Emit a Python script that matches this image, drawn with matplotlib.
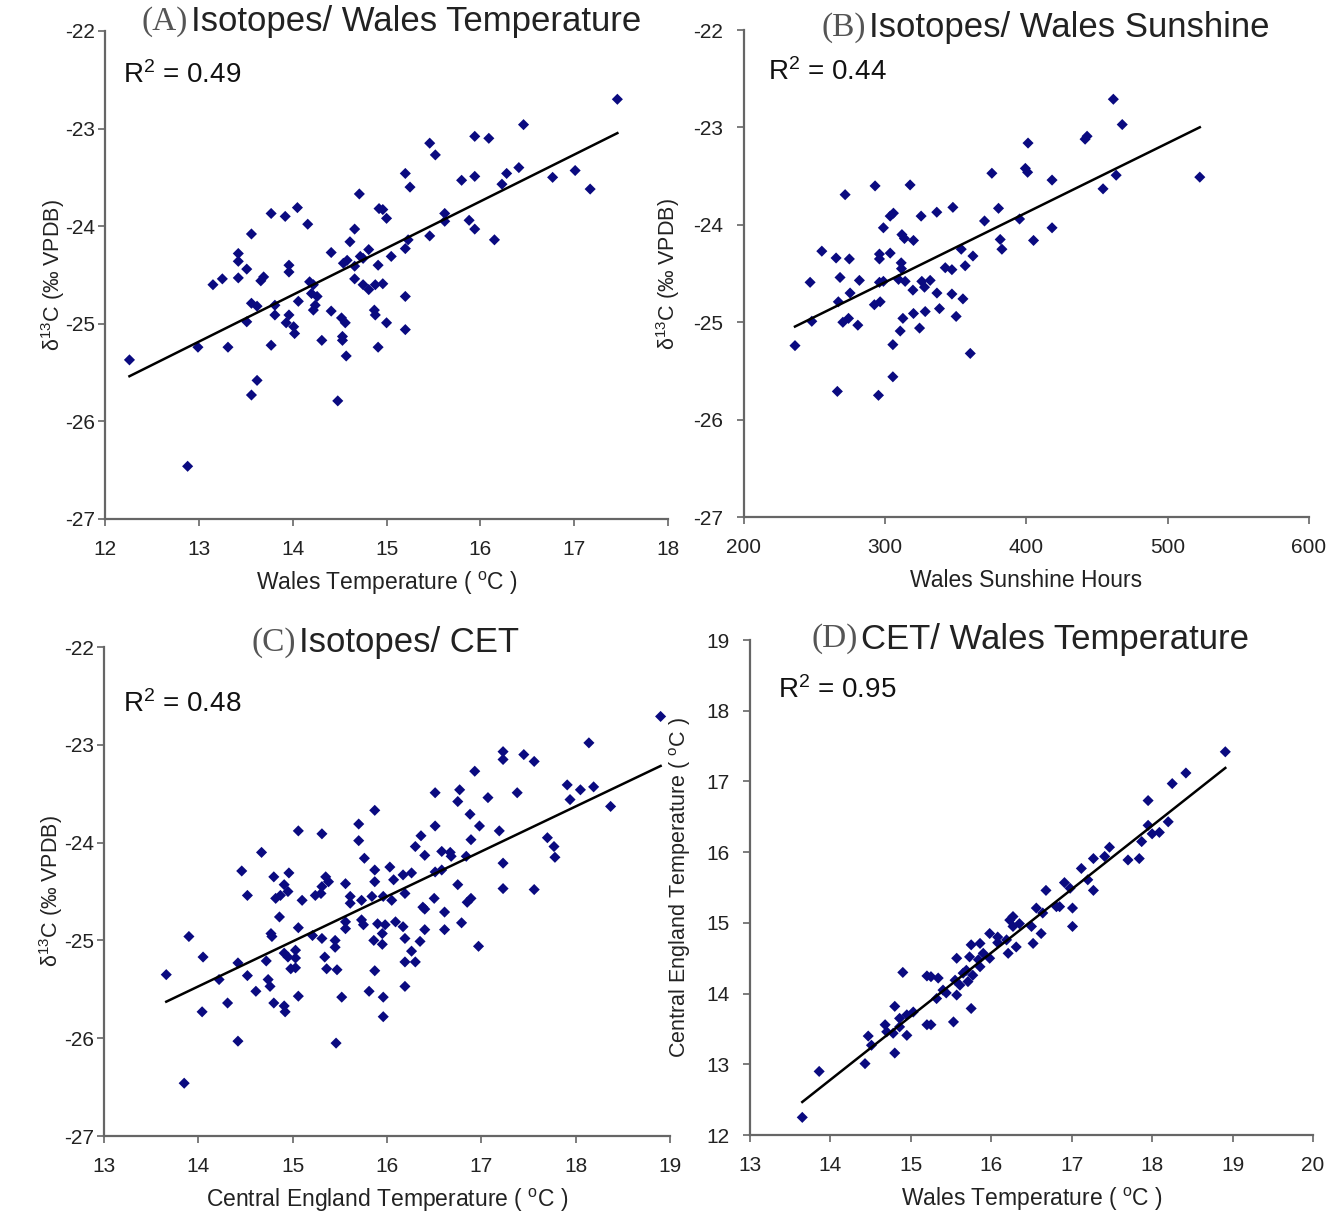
import matplotlib
matplotlib.use("Agg")
import matplotlib.pyplot as plt
import numpy as np

plt.rcParams["font.family"] = ["Liberation Sans", "DejaVu Sans"]
plt.rcParams["mathtext.fontset"] = "custom"
plt.rcParams["mathtext.rm"] = "Liberation Sans"
plt.rcParams["mathtext.it"] = "Liberation Sans:italic"
plt.rcParams["axes.unicode_minus"] = False

# (A) isotopes vs Wales temperature
a_temp = [15.94, 15.46, 15.52, 15.20, 15.25, 15.80, 15.94, 14.71, 14.92, 14.96, 15.00, 13.77, 13.92, 14.05,
          14.16, 15.62, 15.62, 15.88, 15.94, 14.66, 14.61, 13.56, 15.23, 15.46, 15.20, 14.41, 14.81, 14.72,
          15.05, 13.42, 13.42, 13.51, 13.42, 13.25, 13.15, 13.69, 13.66, 13.96, 13.96, 14.54, 14.58, 14.66,
          14.75, 14.91, 14.66, 14.18, 14.22, 14.20, 14.26, 14.24, 14.22, 14.75, 14.81, 14.88, 14.96, 13.56,
          13.62, 13.81, 14.06, 13.81, 13.96, 13.93, 14.01, 14.02, 14.41, 14.52, 14.56, 14.87, 14.88, 15.20,
          15.00, 15.20, 13.51, 14.53, 14.53, 14.31, 13.77, 13.31, 12.99, 14.57, 14.91, 13.62, 13.56, 14.48,
          17.46, 16.46, 16.09, 16.77, 17.01, 17.17, 16.41, 16.28, 16.23, 16.15, 12.26, 12.88]
a_d13c = [-23.08, -23.15, -23.27, -23.46, -23.60, -23.53, -23.49, -23.67, -23.82, -23.83, -23.92, -23.87, -23.90, -23.81,
          -23.98, -23.87, -23.95, -23.94, -24.03, -24.03, -24.16, -24.08, -24.14, -24.10, -24.23, -24.27, -24.24, -24.31,
          -24.31, -24.28, -24.36, -24.44, -24.53, -24.54, -24.60, -24.52, -24.56, -24.40, -24.47, -24.38, -24.35, -24.41,
          -24.33, -24.40, -24.54, -24.57, -24.60, -24.69, -24.72, -24.81, -24.86, -24.60, -24.65, -24.60, -24.59, -24.79,
          -24.82, -24.81, -24.77, -24.91, -24.91, -24.99, -25.03, -25.10, -24.87, -24.94, -24.99, -24.86, -24.91, -24.72,
          -24.99, -25.06, -24.98, -25.13, -25.17, -25.17, -25.22, -25.24, -25.24, -25.33, -25.24, -25.58, -25.73, -25.79,
          -22.70, -22.96, -23.10, -23.50, -23.43, -23.62, -23.40, -23.46, -23.57, -24.14, -25.37, -26.46]

# (B) isotopes vs Wales sunshine hours
b_sun = [442.9, 441.5, 401.1, 399.2, 400.8, 375.5, 418.1, 454.2, 271.6, 292.8, 317.6, 303.5, 305.8, 298.7,
         325.4, 336.5, 347.9, 380.2, 370.3, 395.1, 418.1, 405.0, 381.4, 382.6, 311.8, 313.6, 320.0, 353.8,
         362.1, 356.6, 255.1, 265.2, 274.6, 295.9, 295.9, 303.5, 311.3, 311.5, 342.5, 347.2, 246.8, 268.0,
         281.7, 275.1, 266.8, 295.9, 298.7, 309.4, 314.1, 319.6, 325.9, 327.8, 331.8, 336.6, 347.2, 355.0,
         292.3, 296.4, 248.0, 270.0, 274.0, 280.6, 312.5, 320.0, 328.3, 338.4, 350.2, 310.6, 324.3, 236.1,
         305.4, 360.2, 305.4, 266.1, 295.2, 461.5, 467.8, 522.7, 463.5]
b_d13c = [-23.09, -23.12, -23.16, -23.42, -23.46, -23.47, -23.54, -23.63, -23.69, -23.60, -23.59, -23.91, -23.88, -24.03,
          -23.91, -23.87, -23.82, -23.83, -23.96, -23.94, -24.03, -24.16, -24.15, -24.25, -24.10, -24.14, -24.16, -24.25,
          -24.32, -24.42, -24.27, -24.34, -24.35, -24.30, -24.35, -24.29, -24.39, -24.45, -24.44, -24.46, -24.59, -24.54,
          -24.57, -24.70, -24.79, -24.59, -24.58, -24.56, -24.58, -24.67, -24.58, -24.64, -24.57, -24.70, -24.71, -24.76,
          -24.82, -24.79, -24.99, -25.00, -24.96, -25.03, -24.96, -24.91, -24.89, -24.86, -24.94, -25.09, -25.06, -25.24,
          -25.23, -25.32, -25.56, -25.71, -25.75, -22.71, -22.97, -23.51, -23.49]

# (C) isotopes vs Central England Temperature
c_cet = [17.23, 17.23, 17.45, 17.56, 16.93, 16.51, 16.77, 16.75, 17.07, 17.38, 15.87, 15.70, 15.70, 15.06,
         15.31, 14.67, 15.76, 16.51, 16.88, 16.98, 17.19, 16.89, 16.36, 16.30, 16.40, 16.67, 16.68, 16.84,
         17.23, 17.70, 17.77, 17.78, 17.23, 17.56, 14.46, 14.52, 13.90, 14.80, 14.96, 14.91, 14.82, 14.87,
         14.95, 15.10, 15.35, 15.38, 15.31, 15.24, 15.30, 15.56, 15.61, 15.61, 15.73, 15.84, 15.87, 15.87,
         16.03, 16.07, 16.17, 16.26, 16.19, 16.05, 15.96, 16.51, 16.58, 16.75, 16.50, 16.61, 16.79, 16.85,
         16.89, 16.61, 16.38, 16.40, 16.40, 16.97, 16.35, 16.19, 16.26, 16.19, 16.30, 16.19, 16.09, 15.98,
         15.95, 15.90, 15.86, 15.95, 15.73, 15.75, 15.56, 15.56, 15.45, 15.45, 15.31, 15.21, 15.06, 14.86,
         14.77, 14.78, 15.03, 14.91, 14.95, 15.03, 15.03, 14.98, 14.72, 15.34, 15.47, 14.42, 14.22, 14.05,
         13.66, 14.52, 14.61, 14.74, 14.76, 14.80, 14.91, 14.92, 15.06, 14.31, 14.04, 14.42, 13.85, 15.46,
         15.52, 15.81, 15.96, 15.96, 15.87, 15.36, 16.17, 16.58, 18.90, 18.14, 18.37, 17.91, 17.94, 18.05,
         18.19]
c_d13c = [-23.07, -23.15, -23.10, -23.17, -23.27, -23.49, -23.46, -23.58, -23.54, -23.49, -23.67, -23.81, -23.98, -23.88,
          -23.91, -24.10, -24.16, -23.83, -23.71, -23.83, -23.88, -23.97, -23.93, -24.04, -24.13, -24.10, -24.14, -24.14,
          -24.21, -23.95, -24.04, -24.15, -24.47, -24.48, -24.29, -24.54, -24.96, -24.35, -24.31, -24.43, -24.57, -24.54,
          -24.50, -24.59, -24.35, -24.40, -24.45, -24.54, -24.52, -24.42, -24.55, -24.62, -24.59, -24.55, -24.28, -24.40,
          -24.25, -24.38, -24.33, -24.31, -24.52, -24.59, -24.55, -24.30, -24.28, -24.43, -24.57, -24.71, -24.82, -24.61,
          -24.57, -24.89, -24.66, -24.68, -24.89, -25.06, -25.01, -24.98, -25.11, -25.22, -25.22, -25.47, -24.81, -24.84,
          -24.93, -24.83, -25.00, -25.04, -24.79, -24.84, -24.81, -24.88, -25.00, -25.07, -24.98, -24.95, -24.87, -24.76,
          -24.93, -24.96, -25.10, -25.13, -25.17, -25.18, -25.28, -25.29, -25.21, -25.17, -25.30, -25.23, -25.40, -25.17,
          -25.35, -25.36, -25.52, -25.40, -25.47, -25.64, -25.67, -25.73, -25.57, -25.64, -25.73, -26.03, -26.46, -26.05,
          -25.58, -25.52, -25.58, -25.78, -25.31, -25.29, -24.86, -24.09, -22.71, -22.98, -23.63, -23.41, -23.56, -23.46,
          -23.43]

# (D) CET vs Wales temperature
d_wales = [18.91, 18.42, 18.25, 17.95, 17.95, 18.20, 18.09, 18.00, 17.87, 17.84, 17.70, 17.47, 17.41, 17.27,
           17.12, 17.20, 17.27, 16.91, 16.98, 17.01, 17.01, 16.68, 16.81, 16.85, 16.56, 16.64, 16.50, 16.62,
           16.52, 16.23, 16.35, 16.27, 16.19, 16.31, 16.21, 15.98, 16.08, 16.08, 15.86, 15.75, 15.57, 15.73,
           15.84, 15.98, 15.86, 15.69, 15.77, 15.71, 15.61, 15.55, 15.75, 15.34, 15.40, 15.44, 15.32, 15.57,
           15.53, 15.20, 15.25, 14.90, 15.20, 15.25, 15.03, 14.95, 14.86, 14.80, 14.86, 14.95, 14.68, 14.70,
           14.78, 14.80, 14.47, 14.51, 14.43, 13.86, 13.65, 15.90, 15.65, 16.27]
d_cet = [17.42, 17.12, 16.97, 16.73, 16.38, 16.43, 16.28, 16.26, 16.15, 15.91, 15.89, 16.07, 15.94, 15.91,
         15.77, 15.61, 15.46, 15.57, 15.49, 15.21, 14.95, 15.46, 15.23, 15.23, 15.21, 15.14, 14.95, 14.85,
         14.71, 15.04, 14.99, 14.95, 14.76, 14.66, 14.57, 14.85, 14.80, 14.72, 14.71, 14.69, 14.50, 14.52,
         14.48, 14.50, 14.38, 14.33, 14.26, 14.17, 14.12, 14.19, 13.79, 14.22, 14.05, 14.01, 13.93, 13.98,
         13.60, 14.25, 14.24, 14.30, 13.56, 13.56, 13.74, 13.70, 13.65, 13.82, 13.53, 13.41, 13.56, 13.46,
         13.44, 13.16, 13.40, 13.27, 13.01, 12.90, 12.25, 14.57, 14.29, 15.09]

# trend lines: (slope, intercept)
trend_a = (0.479, -31.41)
trend_b = (0.00714, -26.73)
trend_c = (0.460, -31.91)
trend_d = (0.898, 0.21)
r2_values = ["0.49", "0.44", "0.48", "0.95"]

ISO_LABEL = "δ$^{13}$C (‰ VPDB)"
TEMP_W = "Wales Temperature ( $^{\\rm o}$C )"
CET_LABEL = "Central England Temperature ( $^{\\rm o}$C )"

fig = plt.figure(figsize=(13.35, 12.18), dpi=100)

panels = [
    # rect, x, y, trend, xlim, ylim, xticks, yticks, letter, title, xlabel, ylabel,
    # title split pos, r2 pos, ylabel x, y tick pad
    ([0.0787, 0.5739, 0.4217, 0.4007], a_temp, a_d13c, trend_a, (12, 18), (-27, -22),
     range(12, 19), range(-27, -21), "(A)", "Isotopes/ Wales Temperature", TEMP_W, ISO_LABEL,
     (0.147, 1.02), (0.032, 0.91), -0.093, 2),
    ([0.5573, 0.5755, 0.4232, 0.3998], b_sun, b_d13c, trend_b, (200, 600), (-27, -22),
     range(200, 601, 100), range(-27, -21), "(B)", "Isotopes/ Wales Sunshine", "Wales Sunshine Hours", ISO_LABEL,
     (0.216, 1.006), (0.042, 0.914), -0.135, 10),
    ([0.0779, 0.0673, 0.4240, 0.4015], c_cet, c_d13c, trend_c, (13, 19), (-27, -22),
     range(13, 20), range(-27, -21), "(C)", "Isotopes/ CET", CET_LABEL, ISO_LABEL,
     (0.339, 1.010), (0.034, 0.883), -0.093, 2),
    ([0.5618, 0.0681, 0.4217, 0.4064], d_wales, d_cet, trend_d, (13, 20), (12, 19),
     range(13, 21), range(12, 20), "(D)", "CET/ Wales Temperature", TEMP_W, CET_LABEL,
     (0.192, 1.002), (0.050, 0.899), -0.124, 10),
]

for i, (rect, x, y, trend, xlim, ylim, xt, yt, letter, title, xlab, ylab, tpos, rpos, ylx, ypad) in enumerate(panels):
    ax = fig.add_axes(rect)
    x = np.asarray(x)
    y = np.asarray(y)
    ax.scatter(x, y, marker="D", s=32, color="#0a0a80", edgecolors="none", zorder=3)
    xs = np.array([x.min(), x.max()])
    ax.plot(xs, trend[0] * xs + trend[1], color="black", lw=1.8, zorder=4)

    ax.set_xlim(*xlim)
    ax.set_ylim(*ylim)
    ax.set_xticks(list(xt))
    ax.set_yticks(list(yt))
    for side in ("top", "right"):
        ax.spines[side].set_visible(False)
    for side in ("left", "bottom"):
        ax.spines[side].set_color("#666666")
        ax.spines[side].set_linewidth(1.6)
    ax.tick_params(direction="out", length=5, width=1.2, color="#666666",
                   labelsize=15, labelcolor="#222222")
    ax.tick_params(axis="x", pad=10)
    ax.tick_params(axis="y", pad=ypad)

    # title: serif letter + sans text
    ax.text(tpos[0], tpos[1], letter, transform=ax.transAxes, ha="right", va="center",
            family="Liberation Serif", fontsize=24, color="#555555")
    ax.text(tpos[0] + 0.006, tpos[1], title, transform=ax.transAxes, ha="left", va="center",
            fontsize=25, color="#222222")
    ax.text(rpos[0], rpos[1], "R$^2$ = " + r2_values[i], transform=ax.transAxes,
            ha="left", va="center", fontsize=20, color="#111111")

    ax.text(0.5, -0.131, xlab, transform=ax.transAxes, ha="center", va="center",
            fontsize=16.5, color="#222222")
    ax.text(ylx, 0.5, ylab, transform=ax.transAxes, ha="center", va="center",
            rotation=90, fontsize=15.5, color="#222222")

fig.savefig("out.png", dpi=100)
